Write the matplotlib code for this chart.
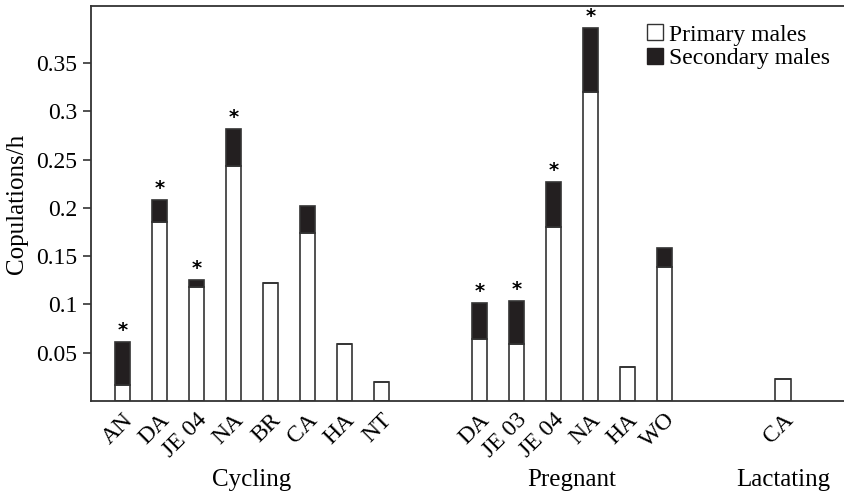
import matplotlib
matplotlib.use("Agg")
import matplotlib.pyplot as plt
from matplotlib.lines import Line2D
import numpy as np

plt.rcParams["font.family"] = ["Liberation Serif", "DejaVu Serif"]

groups = ["Cycling", "Pregnant", "Lactating"]
cycling_labels = ["AN", "DA", "JE 04", "NA", "BR", "CA", "HA", "NT"]
cycling_primary = [0.016, 0.185, 0.118, 0.243, 0.122, 0.174, 0.059, 0.020]
cycling_total = [0.061, 0.208, 0.125, 0.282, 0.122, 0.202, 0.059, 0.020]
cycling_sig = [True, True, True, True, False, False, False, False]

pregnant_labels = ["DA", "JE 03", "JE 04", "NA", "HA", "WO"]
pregnant_primary = [0.064, 0.059, 0.180, 0.320, 0.035, 0.139]
pregnant_total = [0.101, 0.104, 0.227, 0.386, 0.035, 0.158]
pregnant_sig = [True, True, True, True, False, False]

lactating_labels = ["CA"]
lactating_primary = [0.023]
lactating_total = [0.023]
lactating_sig = [False]

group_starts = [0.0, 9.65, 17.85]

labels = cycling_labels + pregnant_labels + lactating_labels
primary = np.array(cycling_primary + pregnant_primary + lactating_primary)
total = np.array(cycling_total + pregnant_total + lactating_total)
sig = cycling_sig + pregnant_sig + lactating_sig
sizes = [len(cycling_labels), len(pregnant_labels), len(lactating_labels)]
xpos = np.concatenate([start + np.arange(n) for start, n in zip(group_starts, sizes)])
secondary = total - primary

edge = "#333333"
dark = "#231f20"

fig = plt.figure(figsize=(8.44, 4.95), dpi=100)
ax = fig.add_axes([0.108, 0.19, 0.892, 0.798])

ax.bar(xpos, primary, width=0.41, color="white", edgecolor=edge, linewidth=1.2)
ax.bar(xpos, secondary, bottom=primary, width=0.41, color=dark, edgecolor=edge, linewidth=1.2)
for x, top, s in zip(xpos, total, sig):
    if s:
        ax.text(x, top + 0.002, "*", ha="center", va="bottom", fontsize=14,
                fontweight="bold", family="DejaVu Sans")

ax.set_xlim(-0.84, 19.5)
ax.set_ylim(0, 0.409)
ax.set_yticks([0.05, 0.1, 0.15, 0.2, 0.25, 0.3, 0.35])
ax.set_yticklabels(["0.05", "0.1", "0.15", "0.2", "0.25", "0.3", "0.35"])
ax.set_xticks(xpos)
ax.set_xticklabels(labels, rotation=45, ha="right", rotation_mode="anchor")
ax.tick_params(axis="x", length=0, pad=6, labelsize=17)
ax.tick_params(axis="y", direction="out", length=6, width=1.2, color=edge, labelsize=17, pad=4)
ax.spines["right"].set_visible(False)
for side in ["left", "top", "bottom"]:
    ax.spines[side].set_color(edge)
    ax.spines[side].set_linewidth(1.3)
ax.set_ylabel("Copulations/h", fontsize=18, labelpad=6)

for start, n, name in zip(group_starts, sizes, groups):
    ax.text(start + (n - 1) / 2, -0.082, name, ha="center", va="center", fontsize=18,
            clip_on=False)

handles = [
    Line2D([], [], linestyle="none", marker="s", markersize=12, markerfacecolor="white",
           markeredgecolor=edge, markeredgewidth=1.0),
    Line2D([], [], linestyle="none", marker="s", markersize=12, markerfacecolor=dark,
           markeredgecolor=dark),
]
ax.legend(handles, ["Primary males", "Secondary males"], loc="upper right",
          bbox_to_anchor=(1.0, 0.99), frameon=False, fontsize=17, handletextpad=0.1,
          labelspacing=0.1, handlelength=1.0, borderaxespad=0.2)

fig.savefig("out.png", dpi=100)
